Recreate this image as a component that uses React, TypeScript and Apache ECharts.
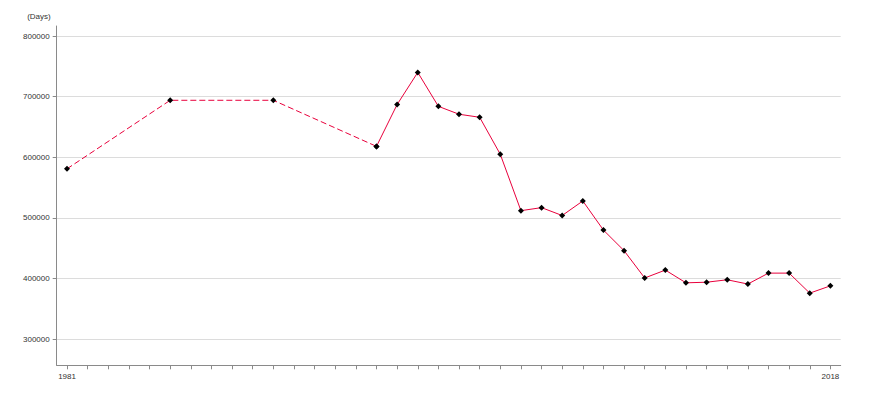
import React, { useEffect, useRef } from "react";
import * as echarts from "echarts";

const estimatedYears = [1981, 1986, 1991, 1996];
const estimatedDays = [581000, 694000, 694000, 618000];

const annualYears = [1996, 1997, 1998, 1999, 2000, 2001, 2002, 2003, 2004, 2005, 2006, 2007, 2008, 2009, 2010, 2011, 2012, 2013, 2014, 2015, 2016, 2017, 2018];
const annualDays = [618000, 687000, 740000, 684000, 671000, 666000, 605000, 512000, 517000, 504000, 528000, 480000, 446000, 401000, 414000, 393000, 394000, 398000, 391000, 409000, 409000, 376000, 388000];

const yTicks = [300000, 400000, 500000, 600000, 700000, 800000];
const xLabels = [1981, 2018];
const xTicks: number[] = [];
for (let y = 1981; y <= 2018; y++) xTicks.push(y);

const LINE = "#e8003c";
const FONT = "Liberation Sans, Arial, sans-serif";

export default function App() {
  const ref = useRef<HTMLDivElement>(null);
  useEffect(() => {
    const chart = echarts.init(ref.current!, null, { renderer: "svg" });
    chart.setOption({
      animation: false,
      grid: { left: 56.7, right: 29.3, top: 26, bottom: 34.7, containLabel: false },
      xAxis: {
        type: "value",
        min: 1980.5,
        max: 2018.5,
        axisLine: { lineStyle: { color: "#8a8a8a", width: 1 } },
        axisTick: { show: true, length: 4, customValues: xTicks, lineStyle: { color: "#8a8a8a" } },
        axisLabel: { customValues: xLabels, fontSize: 8, color: "#333", fontFamily: FONT, margin: 7, formatter: (v: number) => String(v) },
        splitLine: { show: false },
      },
      yAxis: {
        type: "value",
        min: 257000,
        max: 816500,
        name: "(Days)",
        nameLocation: "end",
        nameGap: 6,
        nameTextStyle: { fontSize: 8, color: "#333", fontFamily: FONT, align: "right", padding: [0, 6, 0, 0] },
        axisLine: { show: true, lineStyle: { color: "#8a8a8a", width: 1 } },
        axisTick: { show: true, length: 4, customValues: yTicks, lineStyle: { color: "#8a8a8a" } },
        axisLabel: { customValues: yTicks, fontSize: 8, color: "#333", fontFamily: FONT, margin: 7, formatter: (v: number) => String(v) },
        splitLine: { show: true, lineStyle: { color: "#dcdcdc", width: 1 } },
      },
      series: [
        {
          type: "line",
          data: estimatedYears.map((y, i) => [y, estimatedDays[i]]),
          lineStyle: { color: LINE, width: 1, type: [6, 3] },
          symbol: "diamond",
          symbolSize: 6,
          itemStyle: { color: "#000" },
          z: 2,
        },
        {
          type: "line",
          data: annualYears.map((y, i) => [y, annualDays[i]]),
          lineStyle: { color: LINE, width: 1 },
          symbol: "diamond",
          symbolSize: 6,
          itemStyle: { color: "#000" },
          z: 2,
        },
      ],
    });
    return () => chart.dispose();
  }, []);
  return <div ref={ref} style={{ width: 870, height: 400, position: "absolute", left: 0, top: 0 }} />;
}
